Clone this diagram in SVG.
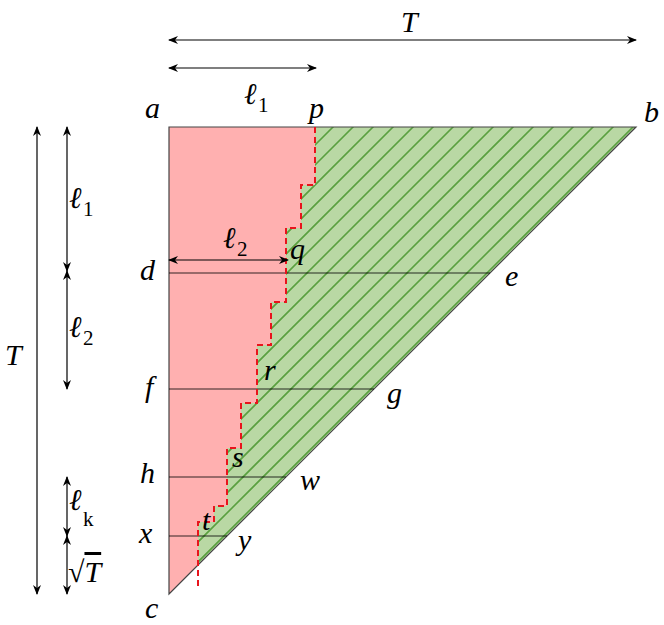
<svg xmlns="http://www.w3.org/2000/svg" width="664" height="625" viewBox="0 0 664 625">
<style>
.l{font-family:"Liberation Serif",serif;font-style:italic;font-size:30px;fill:#000}
.s{font-family:"Liberation Serif",serif;font-size:21px;fill:#000}
.dim{stroke:#000;stroke-width:1.2;fill:none;marker-start:url(#ah);marker-end:url(#ah)}
.h{stroke:#000;stroke-width:1;opacity:0.8}
</style>
<defs>
<marker id="ah" viewBox="0 0 10 10" refX="9" refY="5" markerWidth="10" markerHeight="10" markerUnits="userSpaceOnUse" orient="auto-start-reverse">
<path d="M0,1 L10,5 L0,9 L3,5 Z" fill="#000"/>
</marker>
<clipPath id="gc"><polygon points="315,127 636,127 198,565 198,522 214,522 214,506 227,506 227,448 241,448 241,403 257,403 257,345 271,345 271,302 286,302 286,228 301,228 301,185 315,185"/></clipPath>
</defs>
<g id="red"><polygon points="169,127 315,127 315,185 301,185 301,228 286,228 286,302 271,302 271,345 257,345 257,403 241,403 241,448 227,448 227,506 214,506 214,522 198,522 198,565 169,594" fill="#ffb0b0"/></g>
<g id="green">
<polygon points="315,127 636,127 198,565 198,522 214,522 214,506 227,506 227,448 241,448 241,403 257,403 257,345 271,345 271,302 286,302 286,228 301,228 301,185 315,185" fill="#b9d8a4"/>
<g clip-path="url(#gc)" stroke="#5aa040" stroke-width="1.6">
<path d="M300,160 l60,-60 M300,180 l80,-80 M280,220 l120,-120 M260,260 l160,-160 M240,300 l200,-200 M220,340 l240,-240 M200,380 l280,-280 M180,420 l320,-320 M160,460 l360,-360 M150,490 l390,-390 M150,510 l410,-410 M150,530 l430,-430 M150,550 l450,-450 M150,570 l470,-470 M150,590 l490,-490 M150,610 l510,-510 M150,630 l530,-530 M150,650 l550,-550"/>
</g>
</g>
<g id="triangle"><polygon points="169,127 636,127 169,594" fill="none" stroke="#444" stroke-width="1.2"/></g>
<g id="connectors">
<line class="h" x1="169" y1="273" x2="490" y2="273"/>
<line class="h" x1="169" y1="389" x2="374" y2="389"/>
<line class="h" x1="169" y1="477" x2="286" y2="477"/>
<line class="h" x1="169" y1="536" x2="227" y2="536"/>
<polyline points="315,127 315,185 301,185 301,228 286,228 286,302 271,302 271,345 257,345 257,403 241,403 241,448 227,448 227,506 214,506 214,522 198,522 198,587" fill="none" stroke="#e8141c" stroke-width="2" stroke-dasharray="6,4"/>
<line class="dim" x1="169" y1="40" x2="636" y2="40"/>
<line class="dim" x1="169" y1="68" x2="316" y2="68"/>
<line class="dim" x1="169" y1="260" x2="288" y2="260"/>
<line class="dim" x1="37" y1="127" x2="37" y2="594"/>
<line class="dim" x1="67" y1="127" x2="67" y2="271"/>
<line class="dim" x1="67" y1="271" x2="67" y2="389"/>
<line class="dim" x1="67" y1="477" x2="67" y2="536"/>
<line class="dim" x1="67" y1="536" x2="67" y2="594"/>
</g>
<g id="labels">
<text class="l" x="401" y="32">T</text>
<text class="l" x="244" y="104">ℓ</text><text class="s" x="258" y="112">1</text>
<text class="l" x="145" y="118">a</text>
<text class="l" x="309" y="118">p</text>
<text class="l" x="644" y="122">b</text>
<text class="l" x="69" y="208">ℓ</text><text class="s" x="83" y="216">1</text>
<text class="l" x="223" y="248">ℓ</text><text class="s" x="237" y="256">2</text>
<text class="l" x="290" y="259">q</text>
<text class="l" x="140" y="280">d</text>
<text class="l" x="505" y="286">e</text>
<text class="l" x="69" y="337">ℓ</text><text class="s" x="83" y="345">2</text>
<text class="l" x="5" y="365">T</text>
<text class="l" x="264" y="380">r</text>
<text class="l" x="145" y="397">f</text>
<text class="l" x="387" y="403">g</text>
<text class="l" x="232" y="467">s</text>
<text class="l" x="140" y="483">h</text>
<text class="l" x="300" y="490">w</text>
<text class="l" x="69" y="510">ℓ</text><text class="s" x="83" y="526">k</text>
<text class="l" x="202" y="530">t</text>
<text class="l" x="139" y="543">x</text>
<text class="l" x="238" y="550">y</text>
<text class="l" x="68" y="582">√<tspan style="text-decoration:overline">T</tspan></text>
<text class="l" x="145" y="618">c</text>
</g>
</svg>
